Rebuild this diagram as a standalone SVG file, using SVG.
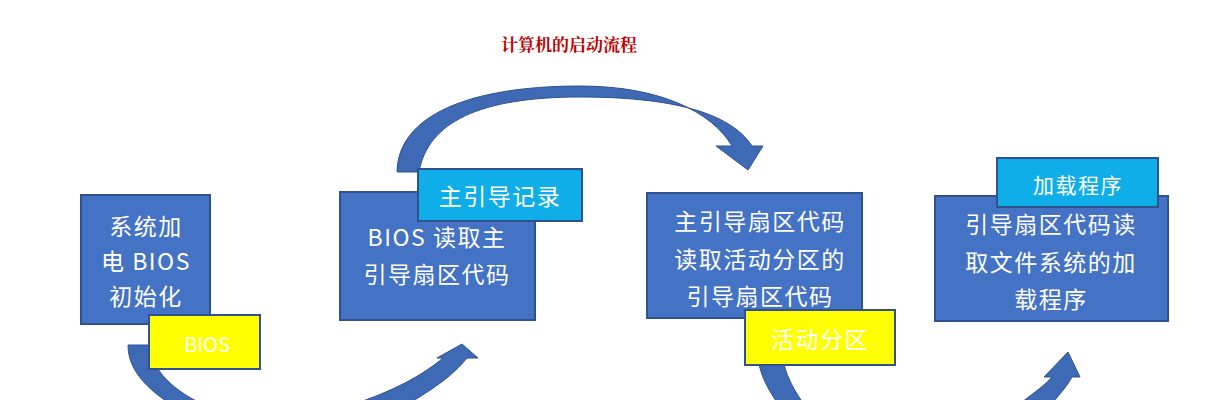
<svg xmlns="http://www.w3.org/2000/svg" width="1217" height="400" viewBox="0 0 1217 400">
<style>
.box{fill:#4472C4;stroke:#2F528F;stroke-width:2}
.cy{fill:#0FAEE8;stroke:#2F528F;stroke-width:2}
.ye{fill:#FFFF00;stroke:#2F528F;stroke-width:2}
.t{font-family:"Noto Sans CJK SC","Liberation Sans",sans-serif;font-size:23px;letter-spacing:1.5px;fill:#fff;text-anchor:middle}
.arr{fill:#3E6AB5;stroke:#2F528F;stroke-width:1}
</style>
<rect width="1217" height="400" fill="#fff"/>
<text x="569" y="51" style="font-family:'Noto Serif CJK SC','Liberation Serif',serif;font-size:17px;font-weight:bold;fill:#C00000;text-anchor:middle">计算机的启动流程</text>
<g id="connectors">
<path class="arr" d="M397,172 C398,115 470,86 580,86 C660,86 712,112 732,146 L716,146 L748,170 L763,146 L752,146 C730,112 670,97 580,97 C480,97 428,122 419,172 Z"/>
<path class="arr" d="M128,345 C128,372 150,392 180,410 L215,410 C180,395 152,375 150,345 Z"/>
<path class="arr" d="M360,402 C400,388 425,373 443,358 L437,358 L462,344 L478,358 L467,358 C445,385 415,398 400,410 Z"/>
<path class="arr" d="M758,352 C758,375 770,392 782,410 L808,410 C795,392 784,375 782,352 Z"/>
<path class="arr" d="M1022,402 C1035,392 1045,385 1052,377 L1044,377 L1068,352 L1080,377 L1072,377 C1065,390 1055,398 1048,410 Z"/>
</g>
<g id="n1"><rect class="box" x="81" y="195" width="129" height="129"/>
<text class="t" x="146" y="235">系统加</text><text class="t" x="146" y="270">电 BIOS</text><text class="t" x="146" y="305">初始化</text></g>
<g id="n1b"><rect class="ye" x="149" y="315" width="111" height="54"/><text class="t" x="207" y="352" style="font-size:20px;letter-spacing:0">BIOS</text></g>
<g id="n2"><rect class="box" x="340" y="192" width="195" height="128"/>
<text class="t" x="437" y="246">BIOS 读取主</text><text class="t" x="437" y="283">引导扇区代码</text></g>
<g id="n2b"><rect class="cy" x="418" y="169" width="164" height="52"/><text class="t" x="500" y="205">主引导记录</text></g>
<g id="n3"><rect class="box" x="647" y="193" width="215" height="125"/>
<text class="t" x="760" y="230">主引导扇区代码</text><text class="t" x="760" y="268">读取活动分区的</text><text class="t" x="760" y="305">引导扇区代码</text></g>
<g id="n3b"><rect class="ye" x="745" y="310" width="150" height="55"/><text class="t" x="820" y="348">活动分区</text></g>
<g id="n4"><rect class="box" x="935" y="196" width="233" height="125"/>
<text class="t" x="1051" y="233">引导扇区代码读</text><text class="t" x="1051" y="271">取文件系统的加</text><text class="t" x="1051" y="308">载程序</text></g>
<g id="n4b"><rect class="cy" x="997" y="158" width="161" height="49"/><text class="t" x="1078" y="193" style="font-size:21px">加载程序</text></g>
</svg>
